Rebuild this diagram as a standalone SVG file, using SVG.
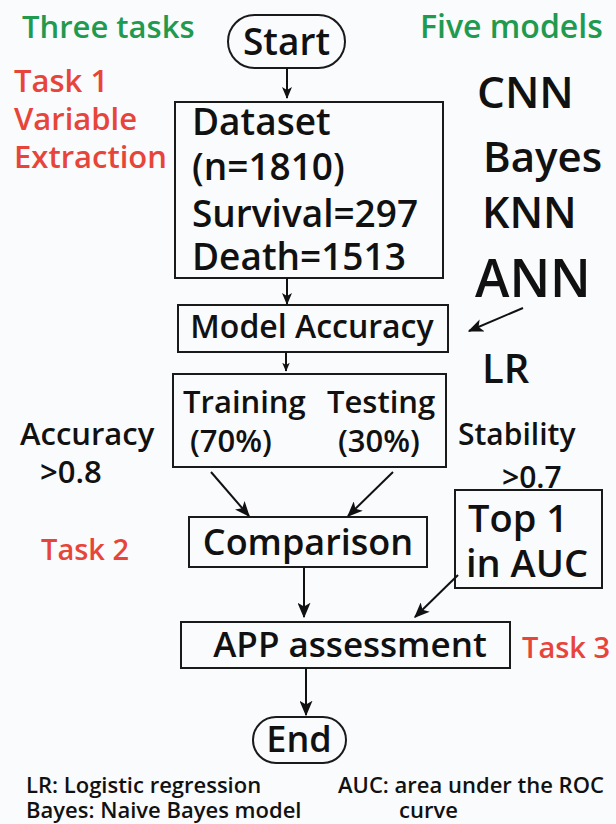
<svg xmlns="http://www.w3.org/2000/svg" width="616" height="824" viewBox="0 0 616 824">
<defs>
<style>
text{font-family:"Open Sans","Noto Sans","DejaVu Sans",sans-serif;fill:#111;font-weight:600}
.g{fill:#1f9a4f}
.r{fill:#e8453a}
.box{fill:none;stroke:#1a1a1a;stroke-width:2}
.c{stroke:#111;stroke-width:2;fill:none}
</style>
<marker id="ah" viewBox="0 0 12 10" refX="11" refY="5" markerWidth="12" markerHeight="10" markerUnits="userSpaceOnUse" orient="auto">
<path d="M0,0 L12,5 L0,10 L3,5 z" fill="#111"/>
</marker>
<marker id="ahs" viewBox="0 0 12 10" refX="11" refY="5" markerWidth="9" markerHeight="8" markerUnits="userSpaceOnUse" orient="auto">
<path d="M0,0 L12,5 L0,10 L3,5 z" fill="#111"/>
</marker>
<marker id="ahl" viewBox="0 0 12 10" refX="11" refY="5" markerWidth="16" markerHeight="13" markerUnits="userSpaceOnUse" orient="auto">
<path d="M0,0 L12,5 L0,10 L3,5 z" fill="#111"/>
</marker>
</defs>
<rect width="616" height="824" fill="#fafbfd"/>

<g id="labels">
<text class="g" x="22" y="38" font-size="31">Three tasks</text>
<text class="g" x="420" y="38" font-size="32">Five models</text>
<text class="r" x="14" y="92" font-size="31">Task 1</text>
<text class="r" x="14" y="130" font-size="31">Variable</text>
<text class="r" x="14" y="168" font-size="31">Extraction</text>
<text x="477" y="108" font-size="44">CNN</text>
<text x="483" y="172" font-size="42">Bayes</text>
<text x="482" y="228" font-size="43">KNN</text>
<text x="475" y="297" font-size="52">ANN</text>
<text x="482" y="383" font-size="40">LR</text>
<text x="20" y="445" font-size="31">Accuracy</text>
<text x="40" y="483" font-size="31">&gt;0.8</text>
<text x="458" y="445" font-size="30">Stability</text>
<text x="502" y="488" font-size="30">&gt;0.7</text>
<text class="r" x="41" y="560" font-size="29">Task 2</text>
<text class="r" x="522" y="658" font-size="29">Task 3</text>
<text x="26" y="793" font-size="22">LR: Logistic regression</text>
<text x="26" y="818" font-size="22">Bayes: Naive Bayes model</text>
<text x="338" y="793" font-size="22">AUC: area under the ROC</text>
<text x="399" y="818" font-size="22">curve</text>
</g>

<g id="start">
<rect class="box" x="228" y="15" width="117" height="53" rx="26.5"/>
<text x="286.5" y="55" font-size="37" text-anchor="middle">Start</text>
</g>

<g id="dataset">
<rect class="box" x="175" y="102" width="268" height="176"/>
<text x="192" y="135" font-size="37">Dataset</text>
<text x="192" y="180" font-size="37">(n=1810)</text>
<text x="192" y="227" font-size="37">Survival=297</text>
<text x="192" y="270" font-size="37">Death=1513</text>
</g>

<g id="model-accuracy">
<rect class="box" x="178" y="305" width="270" height="47"/>
<text x="312" y="338" font-size="32" text-anchor="middle">Model Accuracy</text>
</g>

<g id="split">
<rect class="box" x="173" y="374" width="273" height="93"/>
<text x="183" y="413" font-size="31">Training</text>
<text x="327" y="413" font-size="31">Testing</text>
<text x="190" y="452" font-size="31">(70%)</text>
<text x="338" y="452" font-size="31">(30%)</text>
</g>

<g id="comparison">
<rect class="box" x="189" y="517" width="238" height="50"/>
<text x="308" y="555" font-size="36" text-anchor="middle">Comparison</text>
</g>

<g id="top1">
<rect class="box" x="455" y="490" width="147" height="98"/>
<text x="468" y="532" font-size="38">Top 1</text>
<text x="466" y="577" font-size="38">in AUC</text>
</g>

<g id="app">
<rect class="box" x="181" y="622" width="329" height="46"/>
<text x="350" y="657" font-size="35" text-anchor="middle">APP assessment</text>
</g>

<g id="end">
<rect class="box" x="253" y="717" width="93" height="46" rx="23"/>
<text x="299" y="752" font-size="36" text-anchor="middle">End</text>
</g>

<g id="connectors">
<line class="c" x1="287" y1="68" x2="287" y2="98" marker-end="url(#ah)"/>
<line class="c" x1="287" y1="278" x2="287" y2="304" marker-end="url(#ah)"/>
<line class="c" x1="523" y1="308" x2="469" y2="331" marker-end="url(#ahl)"/>
<line class="c" x1="286" y1="352" x2="286" y2="371" marker-end="url(#ahs)"/>
<line class="c" x1="211" y1="472" x2="249" y2="516" marker-end="url(#ahl)"/>
<line class="c" x1="393" y1="472" x2="348" y2="516" marker-end="url(#ahl)"/>
<line class="c" x1="304" y1="567" x2="304" y2="617" marker-end="url(#ahl)"/>
<line class="c" x1="458" y1="575" x2="415" y2="617" marker-end="url(#ahl)"/>
<line class="c" x1="306" y1="668" x2="306" y2="715" marker-end="url(#ahl)"/>
</g>
</svg>
